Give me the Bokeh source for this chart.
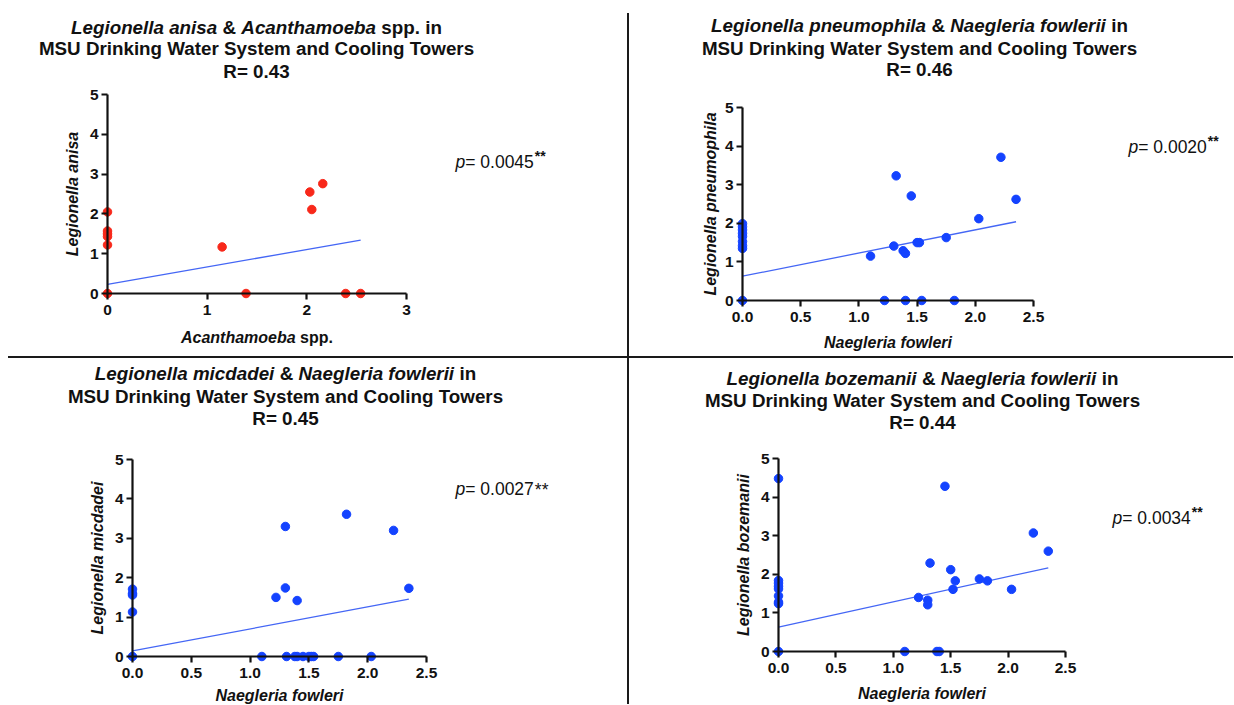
import math
from bokeh.plotting import figure
from bokeh.models import Range1d, FixedTicker, Label, Div
from bokeh.layouts import row, column
from bokeh.embed import file_html
from bokeh.resources import INLINE

# ------------------------------------------------------------------ data
TITLE_LINE2 = "MSU Drinking Water System and Cooling Towers"

# Panel 1: Legionella anisa vs Acanthamoeba spp.
P1_X = [0, 0, 0, 0, 0, 0, 1.15, 1.39, 2.03, 2.05, 2.16, 2.39, 2.54]
P1_Y = [2.05, 1.57, 1.50, 1.43, 1.22, 0, 1.17, 0, 2.55, 2.11, 2.76, 0, 0]
P1_FIT = [0.23, 0.437]          # intercept, slope
P1_XTICKS = [0, 1, 2, 3]
P1_XTICKLABELS = ["0", "1", "2", "3"]
P1_TITLE1 = [("Legionella anisa", "bold italic"), (" & ", "bold"),
             ("Acanthamoeba", "bold italic"), (" spp. in", "bold")]
P1_R = "R= 0.43"
P1_XLAB = [("Acanthamoeba", "bold italic"), (" spp.", "bold")]
P1_YLAB = "Legionella anisa"
P1_P = "0.0045"

# Panel 2: Legionella pneumophila vs Naegleria fowleri
P2_X = [0, 0, 0, 0, 0, 0, 0, 0, 0,
        1.10, 1.22, 1.30, 1.32, 1.38, 1.40, 1.40, 1.45, 1.50, 1.52, 1.54,
        1.75, 1.82, 2.03, 2.22, 2.35]
P2_Y = [1.99, 1.91, 1.83, 1.74, 1.66, 1.53, 1.42, 1.35, 0,
        1.15, 0, 1.41, 3.23, 1.29, 1.22, 0, 2.71, 1.50, 1.50, 0,
        1.63, 0, 2.12, 3.71, 2.62]
P2_FIT = [0.63, 0.60]
P2_TITLE1 = [("Legionella pneumophila", "bold italic"), (" & ", "bold"),
             ("Naegleria fowlerii", "bold italic"), (" in", "bold")]
P2_R = "R= 0.46"
P2_YLAB = "Legionella pneumophila"
P2_P = "0.0020"

# Panel 3: Legionella micdadei vs Naegleria fowleri
P3_X = [0, 0, 0, 0, 0,
        1.10, 1.22, 1.30, 1.30, 1.31, 1.38, 1.40, 1.40, 1.45, 1.50, 1.52,
        1.54, 1.75, 1.82, 2.03, 2.22, 2.35]
P3_Y = [1.71, 1.60, 1.56, 1.13, 0,
        0, 1.50, 3.30, 1.74, 0, 0, 0, 1.42, 0, 0, 0,
        0, 0, 3.61, 0, 3.20, 1.73]
P3_FIT = [0.14, 0.56]
P3_TITLE1 = [("Legionella micdadei", "bold italic"), (" & ", "bold"),
             ("Naegleria fowlerii", "bold italic"), (" in", "bold")]
P3_R = "R= 0.45"
P3_YLAB = "Legionella micdadei"
P3_P = "0.0027"

# Panel 4: Legionella bozemanii vs Naegleria fowleri
P4_X = [0, 0, 0, 0, 0, 0, 0, 0, 0,
        1.10, 1.22, 1.30, 1.30, 1.32, 1.38, 1.40, 1.45, 1.50, 1.52, 1.54,
        1.75, 1.82, 2.03, 2.22, 2.35]
P4_Y = [4.48, 1.84, 1.77, 1.69, 1.62, 1.44, 1.28, 1.24, 0,
        0, 1.40, 1.33, 1.21, 2.29, 0, 0, 4.28, 2.12, 1.61, 1.83,
        1.88, 1.83, 1.61, 3.07, 2.60]
P4_FIT = [0.63, 0.655]
P4_TITLE1 = [("Legionella bozemanii", "bold italic"), (" & ", "bold"),
             ("Naegleria fowlerii", "bold italic"), (" in", "bold")]
P4_R = "R= 0.44"
P4_YLAB = "Legionella bozemanii"
P4_P = "0.0034"

NF_XTICKS = [0, 0.5, 1.0, 1.5, 2.0, 2.5]
NF_XTICKLABELS = ["0.0", "0.5", "1.0", "1.5", "2.0", "2.5"]
NF_XLAB = [("Naegleria fowleri", "bold italic")]
YTICKS = [0, 1, 2, 3, 4, 5]
YTICKLABELS = ["0", "1", "2", "3", "4", "5"]
STARS = "**"

# ------------------------------------------------------------------ style
FONT = "Liberation Sans"
TEXT = "#111111"
RED = "#F8281A"
BLUE = "#1443FF"
FITC = "#4466F5"
TITLE_FS = 18.8

BW = {' ': 278, '&': 722, '.': 278, '=': 584, '*': 389,
      'a': 556, 'b': 611, 'c': 556, 'd': 611, 'e': 556, 'f': 333, 'g': 611,
      'h': 611, 'i': 278, 'j': 278, 'k': 556, 'l': 278, 'm': 889, 'n': 611,
      'o': 611, 'p': 611, 'q': 611, 'r': 389, 's': 556, 't': 333, 'u': 611,
      'v': 556, 'w': 778, 'x': 556, 'y': 556, 'z': 500,
      'A': 722, 'C': 722, 'D': 722, 'L': 611, 'M': 833, 'N': 722, 'R': 722,
      'S': 667, 'T': 611, 'U': 722, 'W': 944}
RW = {' ': 278, '.': 278, '=': 584, '*': 389, 'p': 556}


def tw(s, size, bold=True):
    table = BW if bold else RW
    return sum(table.get(c, 556) for c in s) * size / 1000.0


def lab(p, cx0, cy0, x, y, text, style="bold", size=18, align="left", angle=0.0):
    p.add_layout(Label(x=x - cx0, y=y - cy0, x_units="canvas", y_units="canvas",
                       text=text, text_font=FONT, text_font_style=style,
                       text_font_size=f"{size}px", text_align=align,
                       text_baseline="middle", text_color=TEXT, angle=angle))


def segments(p, cx0, cy0, segs, xcenter, y, size):
    total = sum(tw(t, size, "bold" in s) for t, s in segs)
    x = xcenter - total / 2.0
    for text, style in segs:
        bold = "bold" in style
        lead = len(text) - len(text.lstrip(" "))
        x += tw(" " * lead, size, bold)
        t = text.strip(" ")
        lab(p, cx0, cy0, x, y, t, style, size)
        x += tw(t, size, bold)
        x += tw(" " * (len(text) - len(text.rstrip(" "))), size, bold)


def make_panel(cfg):
    cx0, cy0, cw, ch = cfg["canvas"]
    ox, ex, oy, ey = cfg["ox"], cfg["ex"], cfg["oy"], cfg["ey"]
    xmax, ymax = cfg["xticks"][-1], YTICKS[-1]
    sx = (ex - ox) / xmax
    sy = (oy - ey) / ymax
    # the frame covers the whole canvas; axes sit at x=0 / y=0 inside it
    p = figure(width=cw, height=ch, output_backend="svg", toolbar_location=None,
               x_range=Range1d(-(ox - cx0) / sx, (cx0 + cw - ox) / sx),
               y_range=Range1d(-(cy0 + ch - oy) / sy, (oy - cy0) / sy),
               min_border=0, min_border_left=0, min_border_right=0,
               min_border_top=0, min_border_bottom=0)
    p.xgrid.visible = False
    p.ygrid.visible = False
    p.outline_line_color = None
    p.background_fill_color = "white"
    p.border_fill_color = "white"

    for ax, ticks, labels, bounds in ((p.xaxis[0], cfg["xticks"], cfg["xticklabels"], (0, xmax)),
                                      (p.yaxis[0], YTICKS, YTICKLABELS, (0, ymax))):
        ax.fixed_location = 0
        ax.bounds = bounds
        ax.ticker = FixedTicker(ticks=ticks)
        ax.major_label_overrides = {t: l for t, l in zip(ticks, labels)}
        ax.minor_tick_line_color = None
        ax.major_tick_in = 0
        ax.major_tick_out = 6
        ax.axis_line_width = 2.2
        ax.major_tick_line_width = 2.2
        ax.axis_line_color = "#111111"
        ax.major_tick_line_color = "#111111"
        ax.major_label_text_font = FONT
        ax.major_label_text_font_style = "bold"
        ax.major_label_text_font_size = "15.5px"
        ax.major_label_text_color = TEXT
    p.xaxis[0].major_label_standoff = 5
    p.yaxis[0].major_label_standoff = 3

    xs, ys = cfg["xs"], cfg["ys"]
    b, m = cfg["fit"]
    xf = [0, max(xs)]
    p.line(xf, [b + m * v for v in xf], line_color=FITC, line_width=1.3)
    p.scatter(xs, ys, size=8.5, fill_color=cfg["color"], line_color=cfg["color"])

    # titles
    tcx = cfg["tcx"]
    t1, t2, t3 = cfg["tys"]
    segments(p, cx0, cy0, cfg["title1"], tcx, t1, TITLE_FS)
    lab(p, cx0, cy0, tcx, t2, TITLE_LINE2, "bold", TITLE_FS, "center")
    lab(p, cx0, cy0, tcx, t3, cfg["r"], "bold", TITLE_FS, "center")

    # axis labels
    segments(p, cx0, cy0, cfg["xlab"], (ox + ex) / 2.0, oy + cfg["xlab_dy"], 16)
    lab(p, cx0, cy0, cfg["ylab_x"], (oy + ey) / 2.0, cfg["ylab"], "bold italic", 16,
        "center", math.pi / 2)

    # p value
    px, py = cfg["pxy"]
    fs = 17.5
    lab(p, cx0, cy0, px, py, "p", "italic", fs)
    x2 = px + tw("p", fs, False)
    body = "= " + cfg["pval"]
    lab(p, cx0, cy0, x2, py, body, "normal", fs)
    x3 = x2 + tw(body, fs, False) + 1
    if cfg["sup"]:
        lab(p, cx0, cy0, x3, py - 6, STARS, "bold", 14)
    else:
        lab(p, cx0, cy0, x3, py + 1, STARS, "normal", fs)
    return p


panels = [
    dict(canvas=(0, 0, 627, 356), ox=107, ex=406, oy=293, ey=94,
         xticks=P1_XTICKS, xticklabels=P1_XTICKLABELS, xs=P1_X, ys=P1_Y, color=RED,
         fit=P1_FIT, title1=P1_TITLE1, r=P1_R, tcx=256, tys=(27, 48, 71),
         xlab=P1_XLAB, xlab_dy=44, ylab=P1_YLAB, ylab_x=72,
         pval=P1_P, pxy=(455, 161), sup=True),
    dict(canvas=(629, 0, 604, 356), ox=742, ex=1033, oy=300, ey=107,
         xticks=NF_XTICKS, xticklabels=NF_XTICKLABELS, xs=P2_X, ys=P2_Y, color=BLUE,
         fit=P2_FIT, title1=P2_TITLE1, r=P2_R, tcx=919, tys=(25, 48, 69),
         xlab=NF_XLAB, xlab_dy=42, ylab=P2_YLAB, ylab_x=710,
         pval=P2_P, pxy=(1128, 146), sup=True),
    dict(canvas=(0, 358, 627, 346), ox=132, ex=426, oy=656, ey=459,
         xticks=NF_XTICKS, xticklabels=NF_XTICKLABELS, xs=P3_X, ys=P3_Y, color=BLUE,
         fit=P3_FIT, title1=P3_TITLE1, r=P3_R, tcx=285, tys=(373, 396, 418),
         xlab=NF_XLAB, xlab_dy=39, ylab=P3_YLAB, ylab_x=97,
         pval=P3_P, pxy=(455, 488), sup=False),
    dict(canvas=(629, 358, 604, 346), ox=778, ex=1065, oy=651, ey=458,
         xticks=NF_XTICKS, xticklabels=NF_XTICKLABELS, xs=P4_X, ys=P4_Y, color=BLUE,
         fit=P4_FIT, title1=P4_TITLE1, r=P4_R, tcx=922, tys=(378, 400, 422),
         xlab=NF_XLAB, xlab_dy=42, ylab=P4_YLAB, ylab_x=743,
         pval=P4_P, pxy=(1112, 517), sup=True),
]

figs = [make_panel(c) for c in panels]

LINE = "#1a1a1a"
vl1 = Div(text="", width=2, height=343, margin=(13, 0, 0, 0),
          styles={"background-color": LINE})
hl = Div(text="", width=1225, height=2, margin=(0, 0, 0, 8),
         styles={"background-color": LINE})
vl2 = Div(text="", width=2, height=346, margin=(0, 0, 0, 0),
          styles={"background-color": LINE})

layout = column(row(figs[0], vl1, figs[1]), hl, row(figs[2], vl2, figs[3]))

with open("out.html", "w") as f:
    f.write(file_html(layout, INLINE))
